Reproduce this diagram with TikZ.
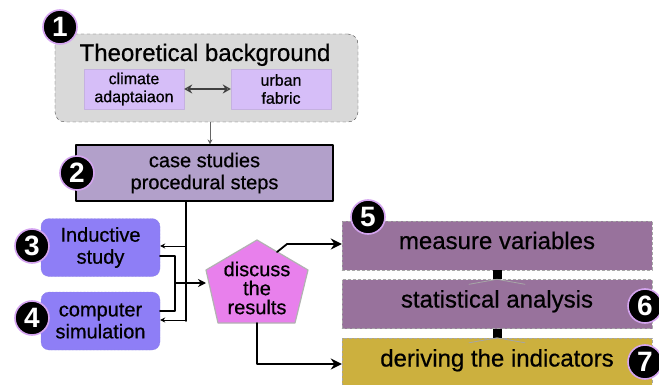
\documentclass[tikz,border=0pt]{standalone}
\usepackage{fontspec}
\setmainfont{Liberation Sans}[UprightFeatures={FakeBold=0.6}]
\usetikzlibrary{arrows.meta}

\definecolor{bggray}{RGB}{217,217,217}
\definecolor{lilac}{RGB}{214,190,248}
\definecolor{caseviolet}{RGB}{178,160,202}
\definecolor{studyblue}{RGB}{142,126,246}
\definecolor{orchid}{RGB}{232,128,236}
\definecolor{mauve}{RGB}{152,114,156}
\definecolor{ochre}{RGB}{204,176,62}
\definecolor{dotrim}{RGB}{212,164,240}

\begin{document}
\begin{tikzpicture}[x=1pt,y=-1pt,line cap=round,line join=round,
    numdot/.style={circle,fill=black,draw=dotrim,line width=1.6pt,minimum size=34pt,
        inner sep=0pt,text=white,font=\fontsize{28}{28}\selectfont\bfseries},
    smallbox/.style={draw=lilac!80!gray,fill=lilac,minimum width=100pt,minimum height=40pt,
        align=center,font=\fontsize{16}{18}\selectfont},
    studybox/.style={fill=studyblue,draw=studyblue!80!gray,densely dotted,rounded corners=8pt,
        minimum width=119pt,minimum height=58pt,align=center,font=\fontsize{20}{22}\selectfont},
    stepbox/.style={draw=gray!70,densely dashed,minimum width=310pt,minimum height=49pt,
        text height=17pt,text depth=10pt,font=\fontsize{24}{26}\selectfont},
    bigarrow/.style={-{Stealth[length=11pt,width=11pt]},line width=1.8pt},
    thinarrow/.style={-{Stealth[length=5pt,width=5pt]},line width=1pt}]
    \useasboundingbox (0,0) rectangle (659,385);

    % 1: theoretical background
    \node[draw=black!70,fill=bggray,dashed,rounded corners=10pt,minimum width=303pt,
        minimum height=88pt] (tb) at (206.5,78) {};
    \node[anchor=base,font=\fontsize{24}{24}\selectfont] (tbtitle) at (205,61) {Theoretical background};
    \node[smallbox] (climate) at (134,89) {climate\\adaptaiaon};
    \node[smallbox] (urban) at (281,89) {urban\\fabric};
    \draw[{Stealth[length=8pt,width=9pt,open]}-{Stealth[length=8pt,width=9pt,open]},
        line width=1.3pt,black!75] (climate) -- (urban);
    \node[numdot] (n1) at (60,27) {1};

    % 2: case studies
    \node[draw=black,line width=1.2pt,fill=caseviolet,minimum width=257pt,minimum height=56pt,
        align=center,font=\fontsize{20}{22}\selectfont] (case) at (204.5,173)
        {case studies\\procedural steps};
    \draw[thinarrow,line width=0.8pt,black!60] (tb.south -| 210,0) -- (case.north -| 210,0);
    \node[numdot] (n2) at (77,173) {2};

    % 3, 4: studies
    \node[studybox] (induct) at (100.5,247.5) {Inductive\\study};
    \node[studybox] (simul) at (100.5,321) {computer\\simulation};
    \node[numdot] (n3) at (32,246) {3};
    \node[numdot] (n4) at (32,318) {4};

    \coordinate (split) at (186,246);
    \draw[line width=1.8pt] (case.south -| split) -- (186,321);
    \draw[thinarrow] (split) -- (induct.east |- split);
    \draw[thinarrow] (186,320) -- (simul.east |- 0,320);

    % discussion pentagon
    \coordinate (pt) at (257,240);
    \coordinate (pr) at (308,270);
    \coordinate (pbr) at (295,323);
    \coordinate (pbl) at (218,323);
    \coordinate (pl) at (206,270);
    \draw[fill=orchid,draw=gray!60,line width=1.2pt] (pt) -- (pr) -- (pbr) -- (pbl) -- (pl) -- cycle;
    \node[align=center,font=\fontsize{20}{19}\selectfont] (disc) at (257,288) {discuss\\the\\results};

    \draw[line width=1.8pt] (160,256) -- (175,256) -- (175,311) -- (160,311);
    \draw[bigarrow,line width=1.4pt,-{Stealth[length=8pt,width=8pt]}] (175,283) -- (pl |- 0,283);

    % 5, 6, 7: steps
    \node[stepbox,fill=mauve] (measure) at (497,245.5) {measure variables};
    \node[stepbox,fill=mauve] (stats) at (497,304) {statistical analysis};
    \node[stepbox,fill=ochre,minimum height=50pt] (derive) at (497,363) {deriving the indicators};
    \node[numdot] (n5) at (368,217) {5};
    \node[numdot] (n6) at (645,306) {6};
    \node[numdot] (n7) at (645,362) {7};

    \draw[bigarrow] (277,252) -- (287,244) -- (measure.west |- 0,244);
    \draw[bigarrow] (257,323) -- (257,364) -- (derive.west |- 0,364);

    \draw[line width=9pt,line cap=butt] (measure.south) -- (stats.north);
    \draw[gray!70,line width=0.8pt] ([xshift=-28pt,yshift=-5pt]stats.north) -- (stats.north)
        -- ([xshift=28pt,yshift=-5pt]stats.north);
    \draw[line width=9pt,line cap=butt] (stats.south) -- (derive.north);
    \draw[gray!70,line width=0.8pt] ([xshift=-28pt,yshift=-5pt]derive.north) -- (derive.north)
        -- ([xshift=28pt,yshift=-5pt]derive.north);
\end{tikzpicture}
\end{document}
